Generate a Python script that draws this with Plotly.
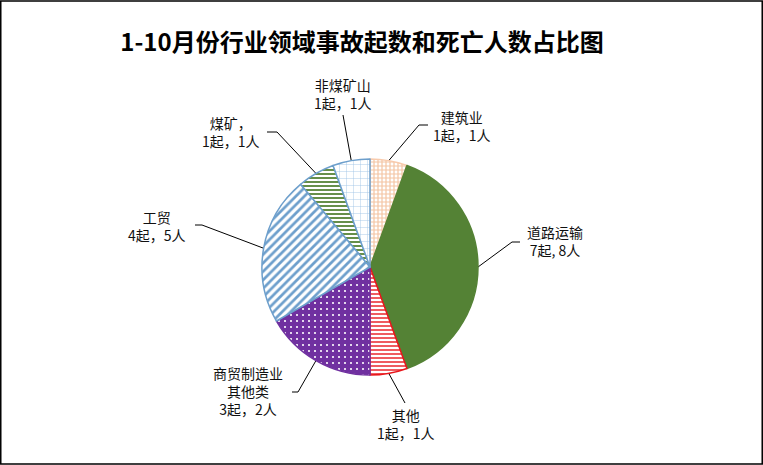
"""
1-10月份行业领域事故起数和死亡人数占比图 (pie with leader lines).
"""
import numpy as np
import plotly.graph_objs as go

# data
categories = ['建筑业', '道路运输', '其他', '商贸制造业其他类', '工贸', '煤矿', '非煤矿山']
label_names = ['建筑业', '道路运输', '其他', '商贸制造业<br>其他类', '工贸', '煤矿，', '非煤矿山']
accidents = [1, 7, 1, 3, 4, 1, 1]
deaths = [1, 8, 1, 2, 5, 1, 1]
separators = ['，', ', ', '，', '，', '，', '，', '，']

# styles per slice
pat_shapes = ['+', '', '-', '.', '/', '-', '+']
pat_fg = ['#f4c4a2', '#548235', '#e8161b', '#ffffff', '#6d9fcc', '#548235', '#9dc3e6']
pat_bg = ['#ffffff', '#548235', '#ffffff', '#7030a0', '#ffffff', '#ffffff', '#ffffff']
line_cols = ['#f8cbad', '#548235', '#e8161b', '#7030a0', '#6d9fcc', '#6d9fcc', '#6d9fcc']
pat_size = [4, 8, 4, 6, 6, 4, 7]
pat_solid = [0.5, 0.3, 0.35, 0.1, 0.45, 0.45, 0.12]

W, H = 763, 465
cx, cy, R = 370, 267, 108  # pie centre / radius in px

# label layout: text centre, optional elbow point, end of leader line (px)
label_pos = [(462, 126), (555, 241), (406, 424), (248, 391), (157, 226), (231, 132), (343, 94)]
leader_end = [[(419, 125), (428, 125)],
              [(512, 242), (520, 242)],
              [(405, 403)],
              [(298, 392), (292, 392)],
              [(202, 225), (195, 225)],
              [(277, 132), (267, 132)],
              [(343, 115)]]

fig = go.Figure()

fig.add_trace(go.Pie(
    labels=categories, values=accidents, sort=False, direction='clockwise',
    rotation=0, textinfo='none', hoverinfo='label+value',
    domain=dict(x=[(cx - R) / W, (cx + R) / W], y=[(H - cy - R) / H, (H - cy + R) / H]),
    marker=dict(
        colors=pat_bg,
        line=dict(color=line_cols, width=1.5),
        pattern=dict(shape=pat_shapes, fgcolor=pat_fg, bgcolor=pat_bg,
                     size=pat_size, solidity=pat_solid, fillmode='replace'),
    ),
    showlegend=False,
))

# leader lines, starting on the rim at each slice's middle angle
total = sum(accidents)
cum = np.cumsum([0] + accidents)
annots = []
for i, name in enumerate(label_names):
    mid = (cum[i] + cum[i + 1]) / 2 / total * 2 * np.pi
    x0 = cx + R * np.sin(mid)
    y0 = cy - R * np.cos(mid)
    xs = [x0] + [p[0] for p in leader_end[i]]
    ys = [y0] + [p[1] for p in leader_end[i]]
    fig.add_trace(go.Scatter(x=xs, y=ys, mode='lines', line=dict(color='black', width=1),
                             hoverinfo='skip', showlegend=False))
    text = '{}<br>{}起{}{}人'.format(name, accidents[i], separators[i], deaths[i])
    annots.append(dict(x=label_pos[i][0], y=label_pos[i][1], xref='x', yref='y', text=text,
                       showarrow=False, align='center',
                       font=dict(family='Noto Sans CJK SC', size=14, color='#111111')))

fig.update_layout(
    width=W, height=H, margin=dict(l=0, r=0, t=0, b=0),
    paper_bgcolor='white', plot_bgcolor='rgba(0,0,0,0)',
    xaxis=dict(range=[0, W], visible=False, fixedrange=True),
    yaxis=dict(range=[H, 0], visible=False, fixedrange=True),
    title=dict(text='<b>1-10月份行业领域事故起数和死亡人数占比图</b>', x=362 / W, xanchor='center',
               y=1 - 43 / H, yanchor='middle',
               font=dict(family='Noto Sans CJK SC', size=24, color='black')),
    annotations=annots,
    shapes=[dict(type='rect', xref='paper', yref='paper', x0=0.001, y0=0.002, x1=0.999, y1=0.998,
                 line=dict(color='black', width=1.5))],
)

fig.write_html("out.html", config={'displayModeBar': False},
               post_script="document.body.style.margin='0';document.body.style.overflow='hidden';")
